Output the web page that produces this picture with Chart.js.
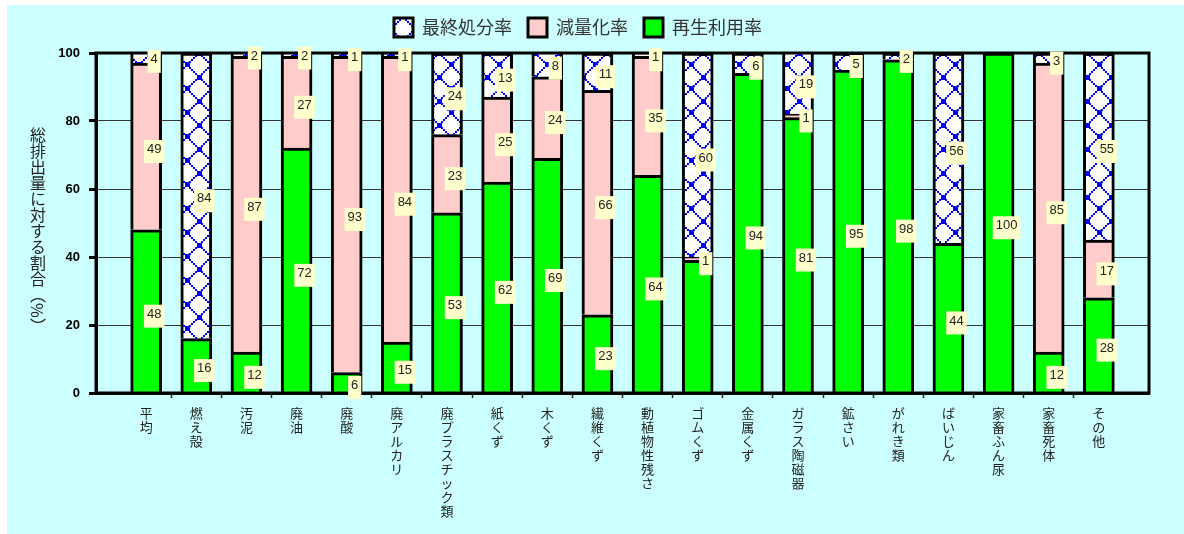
<!DOCTYPE html>
<html lang="ja">
<head>
<meta charset="utf-8">
<title>種類別の処理状況</title>
<script src="https://cdn.jsdelivr.net/npm/chart.js@4.4.1/dist/chart.umd.min.js"></script>
<style>
  html, body { margin: 0; padding: 0; background: #fff; }
  body { width: 1184px; height: 534px; position: relative; overflow: hidden; }
  #wrap { position: absolute; left: 7px; top: 5px; width: 1177px; height: 529px; background: #ccffff; }
  #chart { position: absolute; left: 0; top: 0; }
  #ytitle {
    position: absolute; left: 23px; top: 122px;
    writing-mode: vertical-rl;
    font: 16px "Noto Sans CJK JP", sans-serif; line-height: 16px; color: #222;
  }
</style>
</head>
<body>
<div id="wrap">
  <canvas id="chart" width="1177" height="529"></canvas>
  <div id="ytitle">総排出量に対する割合（%）</div>
</div>
<script>
const categories = [
  "平均", "燃え殻", "汚泥", "廃油", "廃酸", "廃アルカリ", "廃プラスチック類",
  "紙くず", "木くず", "繊維くず", "動植物性残さ", "ゴムくず", "金属くず",
  "ガラス陶磁器", "鉱さい", "がれき類", "ばいじん", "家畜ふん尿", "家畜死体", "その他",
];
// percent of total discharge
const recycleRate = [48, 16, 12, 72, 6, 15, 53, 62, 69, 23, 64, 39, 94, 81, 95, 98, 44, 100, 12, 28];
const reductionRate = [49, 0, 87, 27, 93, 84, 23, 25, 24, 66, 35, 1, 0, 1, 0, 0, 0, 0, 85, 17];
const disposalRate = [4, 84, 2, 2, 1, 1, 24, 13, 8, 11, 1, 60, 6, 19, 5, 2, 56, 0, 3, 55];
const yTicks = [0, 20, 40, 60, 80, 100];
const recycleUnlabeled = ["ゴムくず"];

const FONT_JP = '"Noto Sans CJK JP", "Noto Sans", sans-serif';
const FONT_NUM = '"Liberation Sans", Arial, sans-serif';

// empty slot at each end, like the original sheet
const slotNames = ["", ...categories, ""];
const pad = (arr) => [null, ...arr.map((v) => v || null), null];

function makeLattice() {
  const size = 24;
  const c = document.createElement("canvas");
  c.width = size;
  c.height = size;
  const g = c.getContext("2d");
  g.fillStyle = "#ffffff";
  g.fillRect(0, 0, size, size);
  g.fillStyle = "#0000ff";
  for (let t = 0; t < size; t += 2) {
    g.fillRect(t, t, 2, 2);
    g.fillRect(t, size - t - 2, 2, 2);
  }
  // heavier blobs where the diagonals cross
  [[0, 0], [12, 11]].forEach(([x, y]) => {
    for (const dx of [0, size]) {
      for (const dy of [0, size]) {
        g.fillRect(x - 2 + dx, y - 2 + dy, 5, 5);
      }
    }
  });
  return g.createPattern(c, "repeat");
}

const frameAndLabels = {
  id: "frameAndLabels",
  afterDatasetsDraw(chart) {
    const { ctx, chartArea: a } = chart;
    ctx.save();
    ctx.strokeStyle = "#000";
    ctx.lineWidth = 3;
    ctx.strokeRect(a.left, a.top, a.right - a.left, a.bottom - a.top);

    ctx.font = "13px " + FONT_NUM;
    ctx.textAlign = "center";
    ctx.textBaseline = "middle";
    chart.data.datasets.forEach((ds, di) => {
      chart.getDatasetMeta(di).data.forEach((bar, i) => {
        const v = ds.data[i];
        if (v == null) return;
        if (ds.unlabeled && ds.unlabeled.includes(slotNames[i])) return;
        const { x, y, base } = bar.getProps(["x", "y", "base"], true);
        const mid = (y + base) / 2;
        const text = String(v);
        const w = ctx.measureText(text).width + 6;
        const cx = x + 8;
        ctx.fillStyle = "#ffffcc";
        ctx.fillRect(cx - w / 2, mid - 6.5, w, 23);
        ctx.fillStyle = "#222";
        ctx.fillText(text, cx, mid + 3);
      });
    });
    ctx.restore();
  },
};

const lattice = makeLattice();
const common = { borderColor: "#000", borderWidth: 3, borderSkipped: "start", barThickness: 31 };

new Chart(document.getElementById("chart"), {
  type: "bar",
  data: {
    labels: slotNames.map((n) => (n ? [...n] : "")),
    datasets: [
      { ...common, label: "再生利用率", data: pad(recycleRate), backgroundColor: "#00ff00", unlabeled: recycleUnlabeled },
      { ...common, label: "減量化率", data: pad(reductionRate), backgroundColor: "#ffcccc" },
      { ...common, label: "最終処分率", data: pad(disposalRate), backgroundColor: lattice },
    ],
  },
  options: {
    responsive: false,
    animation: false,
    layout: { padding: { top: -3, right: 35, left: 0, bottom: 0 } },
    plugins: {
      tooltip: { enabled: false },
      legend: {
        reverse: true,
        labels: {
          boxWidth: 19,
          boxHeight: 19,
          padding: 16,
          color: "#333",
          font: { family: FONT_JP, size: 18 },
        },
      },
      subtitle: {
        display: true,
        text: "",
        weight: 500,
        font: { size: 1, lineHeight: 0 },
        padding: { top: 6, bottom: 0 },
      },
    },
    scales: {
      x: {
        stacked: true,
        offset: false,
        grid: {
          offset: true,
          drawOnChartArea: false,
          tickLength: 5,
          tickWidth: 1.5,
          tickColor: (c) => (c.index >= 2 && c.index <= categories.length ? "#222" : "rgba(0,0,0,0)"),
        },
        border: { display: true, color: "#000", width: 3 },
        ticks: {
          autoSkip: false,
          maxRotation: 0,
          minRotation: 0,
          padding: 8,
          color: "#222",
          font: { family: FONT_JP, size: 13, lineHeight: "14px" },
        },
        afterFit: (s) => { s.height = 141; },
      },
      y: {
        stacked: true,
        min: 0,
        max: 100,
        afterBuildTicks: (s) => { s.ticks = yTicks.map((v) => ({ value: v })); },
        grid: { color: "#333", lineWidth: 1, tickLength: 7, tickWidth: 3, tickColor: "#000" },
        border: { display: true, color: "#000", width: 3 },
        ticks: { padding: 9, color: "#000", font: { family: FONT_NUM, size: 13, weight: "bold" } },
        afterFit: (s) => { s.width = 89; },
      },
    },
  },
  plugins: [frameAndLabels],
});
</script>
</body>
</html>
